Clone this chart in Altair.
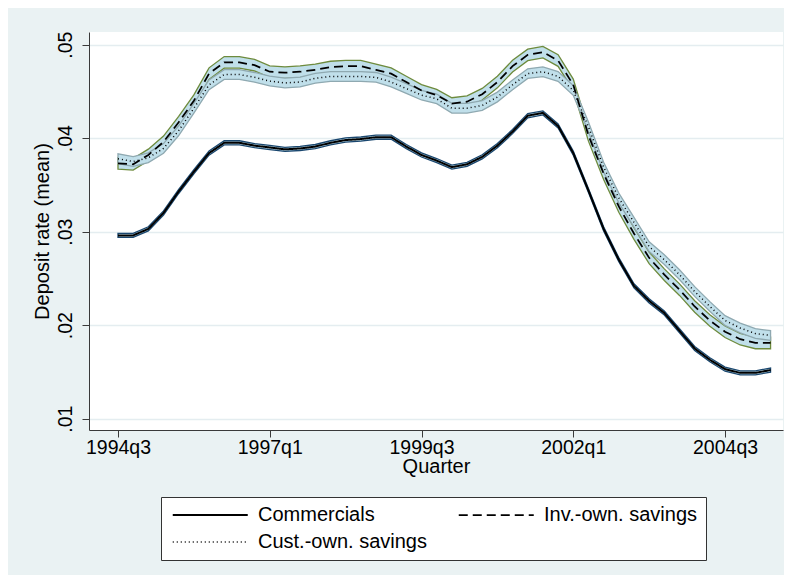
import altair as alt
import pandas as pd

# Quarters 1994q3 .. 2005q2 as index 0..43
quarter_index = list(range(44))

commercials = [0.0296, 0.0296, 0.0303, 0.0320, 0.0343, 0.0364, 0.0384, 0.0395, 0.0395, 0.0392,
               0.0390, 0.0388, 0.0389, 0.0391, 0.0395, 0.0398, 0.0399, 0.0401, 0.0401, 0.0391,
               0.0382, 0.0376, 0.0369, 0.0372, 0.0380, 0.0392, 0.0407, 0.0424, 0.0427, 0.0413,
               0.0384, 0.0344, 0.0303, 0.0270, 0.0242, 0.0226, 0.0213, 0.0194, 0.0175, 0.0163,
               0.0153, 0.0149, 0.0149, 0.0152]
inv_own = [0.0373, 0.0372, 0.0382, 0.0396, 0.0417, 0.0440, 0.0469, 0.0481, 0.0481, 0.0478,
           0.0471, 0.0470, 0.0471, 0.0473, 0.0476, 0.0477, 0.0477, 0.0473, 0.0469, 0.0460,
           0.0451, 0.0446, 0.0437, 0.0439, 0.0447, 0.0460, 0.0477, 0.0489, 0.0492, 0.0483,
           0.0457, 0.0403, 0.0362, 0.0327, 0.0298, 0.0272, 0.0254, 0.0238, 0.0220, 0.0205,
           0.0193, 0.0185, 0.0181, 0.0181]
cust_own = [0.0378, 0.0375, 0.0379, 0.0389, 0.0408, 0.0432, 0.0457, 0.0468, 0.0468, 0.0465,
            0.0461, 0.0459, 0.0460, 0.0464, 0.0466, 0.0466, 0.0466, 0.0465, 0.0460, 0.0453,
            0.0446, 0.0442, 0.0432, 0.0432, 0.0435, 0.0444, 0.0457, 0.0469, 0.0471, 0.0466,
            0.0451, 0.0412, 0.0369, 0.0336, 0.0310, 0.0284, 0.0270, 0.0254, 0.0236, 0.0220,
            0.0205, 0.0197, 0.0191, 0.0189]

series_names = ["Commercials", "Inv.-own. savings", "Cust.-own. savings"]
ci_halfwidth = [0.00022, 0.00062, 0.00052]

x_tick_values = [0, 10, 20, 30, 40]
x_tick_labels = ["1994q3", "1997q1", "1999q3", "2002q1", "2004q3"]
y_tick_values = [0.01, 0.02, 0.03, 0.04, 0.05]

rows = []
for name, vals, hw in zip(series_names, [commercials, inv_own, cust_own], ci_halfwidth):
    for q, v in zip(quarter_index, vals):
        rows.append({"q": q, "series": name, "mean": v, "lo": v - hw, "hi": v + hw})
df = pd.DataFrame(rows)

FONT = "Liberation Sans"
label_array = "[" + ",".join("'" + s + "'" for s in x_tick_labels) + "]"

x_scale = alt.Scale(domain=[-1.91, 43.82], nice=False, zero=False)
y_scale = alt.Scale(domain=[0.00879, 0.05135], nice=False, zero=False)

x_axis = alt.Axis(values=x_tick_values, labelExpr=label_array + "[round(datum.value/10)]",
                  title="Quarter", grid=False, tickSize=7, labelPadding=1, titlePadding=0,
                  labelFontSize=19.5, titleFontSize=20)
y_axis = alt.Axis(values=y_tick_values,
                  labelExpr="replace(format(datum.value, '.2f'), '0.', '.')",
                  title="Deposit rate (mean)", grid=True, tickSize=7, labelAngle=270,
                  labelAlign="center", labelBaseline="bottom", labelPadding=7,
                  titlePadding=3, labelFontSize=19.5, titleFontSize=20)

band_colors = {"Commercials": "#1A476F", "Inv.-own. savings": "#6E8B3D",
               "Cust.-own. savings": "#8FA9B1"}


def band(name):
    return alt.Chart(df).transform_filter(alt.datum.series == name).mark_area(
        fill="#C0DFEA", stroke=band_colors[name], strokeWidth=1.3, opacity=1
    ).encode(
        x=alt.X("q:Q", scale=x_scale, axis=x_axis),
        y=alt.Y("lo:Q", scale=y_scale, axis=y_axis),
        y2="hi:Q",
    )


lines = alt.Chart(df).mark_line(color="black").encode(
    x=alt.X("q:Q", scale=x_scale, axis=x_axis),
    y=alt.Y("mean:Q", scale=y_scale, axis=y_axis),
    strokeDash=alt.StrokeDash(
        "series:N",
        scale=alt.Scale(domain=series_names, range=[[1, 0], [9, 5], [1, 3]]),
        legend=alt.Legend(
            title=None, orient="none", legendX=72, legendY=465, columns=2,
            direction="horizontal", padding=8, strokeColor="#333333", fillColor="white",
            symbolType="M-1,0H11", symbolSize=156.25, symbolStrokeWidth=1.5,
            symbolStrokeColor="black", labelFont=FONT, labelFontSize=20,
            labelColor="black", labelOffset=69, columnPadding=28, rowPadding=7,
            labelLimit=400,
        ),
    ),
    strokeWidth=alt.StrokeWidth(
        "series:N", scale=alt.Scale(domain=series_names, range=[2.0, 1.5, 1.3]), legend=None
    ),
)

chart = alt.layer(
    band("Inv.-own. savings"),
    band("Cust.-own. savings"),
    band("Commercials"),
    lines,
).properties(
    width=694, height=398,
    autosize=alt.AutoSizeParams(type="none"),
    padding={"left": 81, "top": 24, "right": 1, "bottom": 145},
).configure(
    background="#EAF2F3"
).configure_view(
    fill="white", stroke=None
).configure_axis(
    domainColor="#3a3a3a", tickColor="#3a3a3a", domainWidth=1, tickWidth=1,
    labelFont=FONT, labelColor="black", titleFont=FONT, titleColor="black",
    titleFontWeight="normal", gridColor="#E4EDF0", gridWidth=1.3,
)

chart.save("out.html", embed_options={"renderer": "svg", "actions": False})
